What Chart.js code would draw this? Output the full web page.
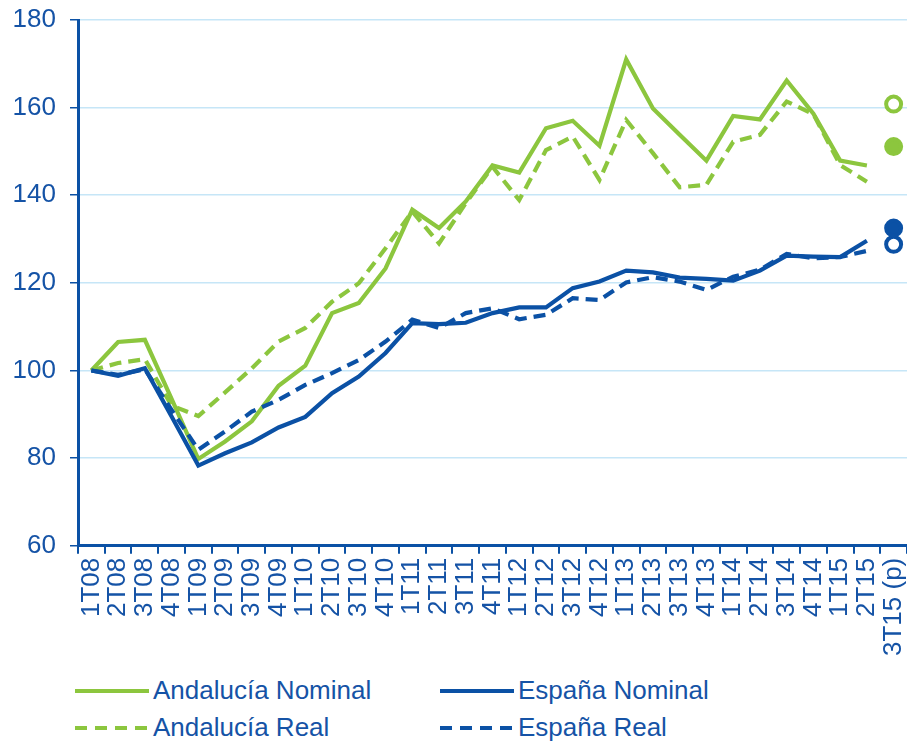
<!DOCTYPE html>
<html>
<head>
<meta charset="utf-8">
<script src="https://cdn.jsdelivr.net/npm/chart.js@4/dist/chart.umd.min.js"></script>
<style>
  html, body { margin: 0; padding: 0; overflow: hidden; background: #fff; font-family: "Liberation Sans", Arial, sans-serif; }
  #wrap { position: relative; width: 907px; height: 670px; }
  #legend { position: absolute; left: 0; top: 670px; width: 907px; height: 71px; }
  .item { position: absolute; height: 30px; color: #1553a6; font-size: 26px; line-height: 30px; white-space: nowrap; }
  .item span.sw { display: inline-block; width: 74px; height: 4px; vertical-align: middle; margin-right: 4px; position: relative; top: -1px; }
  .g { background: #8cc63e; }
  .b { background: #0b51a5; }
  .gd { background: repeating-linear-gradient(to right, #8cc63e 0 12px, transparent 12px 20px); }
  .bd { background: repeating-linear-gradient(to right, #0b51a5 0 12px, transparent 12px 20px); }
</style>
</head>
<body>
<div id="wrap"><canvas id="chart" width="907" height="670"></canvas></div>
<div id="legend">
  <div class="item" style="left:75px; top:5px;"><span class="sw g"></span>Andalucía Nominal</div>
  <div class="item" style="left:440px; top:5px;"><span class="sw b"></span>España Nominal</div>
  <div class="item" style="left:75px; top:42px;"><span class="sw gd"></span>Andalucía Real</div>
  <div class="item" style="left:440px; top:42px;"><span class="sw bd"></span>España Real</div>
</div>
<script>
const labels = ['1T08','2T08','3T08','4T08','1T09','2T09','3T09','4T09','1T10','2T10','3T10','4T10',
  '1T11','2T11','3T11','4T11','1T12','2T12','3T12','4T12','1T13','2T13','3T13','4T13',
  '1T14','2T14','3T14','4T14','1T15','2T15','3T15 (p)'];

// indices 100 = 1T08
const andaluciaNominal = [100, 106.5, 107, 93.5, 79.8, 83.8, 88.4, 96.5, 101.1, 113.1, 115.4, 123.3,
  136.7, 132.5, 138.6, 146.8, 145.2, 155.3, 157.0, 151.3, 171.0, 159.8, 153.8, 147.9,
  158.1, 157.3, 166.2, 158.6, 147.9, 146.8];
const andaluciaReal = [100, 101.7, 102.6, 92, 89.6, 95, 100.5, 106.6, 109.7, 115.7, 119.9, 127.9,
  136.3, 129, 138.2, 146.5, 138.9, 150.3, 153.4, 143.5, 157.2, 149.6, 141.8, 142.4,
  152.2, 153.8, 161.4, 158.5, 146.9, 143.1];
const espanaNominal = [100, 98.8, 100.5, 89.5, 78.3, 81.1, 83.6, 87, 89.4, 94.8, 98.6, 104,
  110.8, 110.6, 110.9, 113.1, 114.4, 114.4, 118.8, 120.3, 122.8, 122.4, 121.2, 120.9,
  120.5, 122.8, 126.2, 126, 125.9, 129.6];
const espanaReal = [100, 99, 100.3, 91, 81.9, 86.1, 90.6, 93.3, 96.7, 99.4, 102.4, 106.6,
  111.6, 109.7, 113.1, 114.2, 111.7, 112.7, 116.5, 116.1, 120.1, 121.3, 120.3, 118.4,
  121.4, 123, 126.6, 125.6, 125.9, 127.3];

// previsiones 3T15 (p)
const forecastLabel = '3T15 (p)';
const andaluciaNominalP = 151.1;
const andaluciaRealP = 160.8;
const espanaNominalP = 132.5;
const espanaRealP = 128.8;

const green = '#8cc63e';
const blue = '#0b51a5';
const textBlue = '#1553a6';
const gridBlue = '#c6e6f7';

function lineSet(label, data, color, dashed)
{
    return {
        label: label,
        data: data,
        borderColor: color,
        backgroundColor: color,
        borderWidth: 4.2,
        borderDash: dashed ? [12, 7] : [],
        pointRadius: 0,
        tension: 0,
        fill: false
    };
}

function pointSet(label, value, color, open)
{
    return {
        label: label,
        data: [{x: forecastLabel, y: value}],
        showLine: false,
        borderColor: color,
        backgroundColor: open ? '#ffffff' : color,
        borderWidth: 4,
        pointRadius: 7.5
    };
}

// drop the extra padding chart.js adds around edge labels
function noScalePadding(scale)
{
    scale.paddingLeft = 0;
    scale.paddingRight = 0;
    scale.paddingTop = 0;
    scale.paddingBottom = 0;
}

const canvas = document.getElementById('chart');

new Chart(canvas, {
    type: 'line',
    data: {
        labels: labels,
        datasets: [
            pointSet('Andalucía Nominal (p)', andaluciaNominalP, green, false),
            pointSet('Andalucía Real (p)', andaluciaRealP, green, true),
            pointSet('España Nominal (p)', espanaNominalP, blue, false),
            pointSet('España Real (p)', espanaRealP, blue, true),
            lineSet('España Real', espanaReal, blue, true),
            lineSet('España Nominal', espanaNominal, blue, false),
            lineSet('Andalucía Real', andaluciaReal, green, true),
            lineSet('Andalucía Nominal', andaluciaNominal, green, false)
        ]
    },
    options: {
        responsive: false,
        animation: false,
        layout: { autoPadding: false, padding: { left: 12, right: 0, top: 20, bottom: 10 } },
        plugins: {
            legend: { display: false },
            tooltip: { enabled: false }
        },
        scales: {
            x: {
                offset: true,
                afterFit: noScalePadding,
                grid: {
                    offset: true,
                    drawOnChartArea: false,
                    color: blue,
                    tickColor: blue,
                    tickLength: 8,
                    lineWidth: 2
                },
                border: { display: true, color: blue, width: 3 },
                ticks: {
                    color: textBlue,
                    font: { family: 'Liberation Sans', size: 26 },
                    maxRotation: 90,
                    minRotation: 90,
                    autoSkip: false,
                    padding: 4
                }
            },
            y: {
                min: 60,
                max: 180,
                afterFit: (scale) => {
                    noScalePadding(scale);
                    scale.width = 66;
                },
                grid: {
                    color: gridBlue,
                    tickColor: blue,
                    tickLength: 8,
                    lineWidth: 1.5
                },
                border: { display: true, color: blue, width: 3 },
                ticks: {
                    stepSize: 20,
                    color: textBlue,
                    font: { family: 'Liberation Sans', size: 26 },
                    padding: 14
                }
            }
        }
    }
});
</script>
</body>
</html>
